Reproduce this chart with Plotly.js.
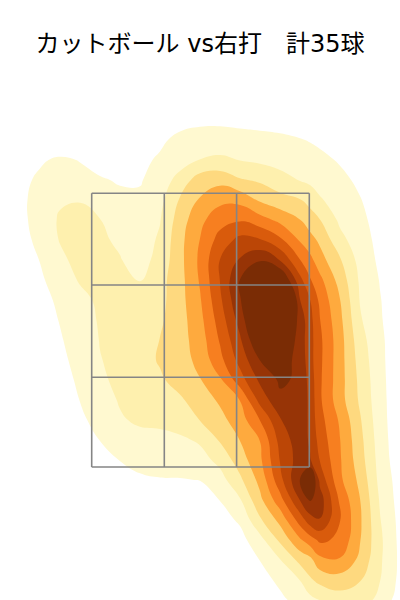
<!DOCTYPE html>
<html>
<head>
<meta charset="utf-8">
<script src="https://cdn.plot.ly/plotly-3.0.1.min.js"></script>
<style>html,body{margin:0;padding:0;background:#fff}#chart{width:400px;height:600px}</style>
</head>
<body>
<div id="chart"></div>
<script>
const chartTitle = 'カットボール vs右打\u3000計35球';
const locX = [0,20,40,60,80,100,120,140,160,180,200,220,240,260,280,300,310,320,340,360,380,400,420];
const locY = [100,120,140,160,180,200,220,240,260,280,300,320,340,360,380,400,420,440,460,480,500,520,540,560,580,600,620];
const density = [
[0,0,0,0,0,0,0,0,.05,.15,.2,.2,.2,.15,.15,.1,.05,0,0,0,0,0,0],
[0,0,0,0,0,0,0,0,.3,.6,.75,.75,.7,.65,.6,.5,.35,.2,0,0,0,0,0],
[0,0,0,0,0,0,0,.4,.8,1.3,1.5,1.55,1.4,1.3,1.2,1.05,.95,.8,.3,0,0,0,0],
[0,.2,.85,1.2,.95,.6,.4,.75,1.15,1.5,2.02,2.15,1.98,1.8,1.6,1.45,1.35,1.25,.9,.3,0,0,0],
[0,.7,1.2,1.5,1.35,1.1,.9,.93,1.4,2.4,3.5,3.7,3.1,2.85,2.4,1.95,1.78,1.6,1.25,.8,.2,0,0],
[0,.7,1.5,1.92,1.96,1.7,1.25,1.15,1.7,3.1,4.1,4.75,4.7,3.85,3.35,3.05,2.65,2.1,1.55,1.05,.5,0,0],
[0,.6,1.6,2.08,2.25,2.02,1.6,1.35,1.95,3.5,4.75,5.6,5.9,5.4,4.75,4.02,3.5,3.02,1.8,1.25,.6,0,0],
[0,.5,1.35,2.05,2.35,2.15,1.85,1.5,2.15,3.7,5.02,6.4,7.3,7.1,6.2,4.9,4.35,3.8,2.3,1.45,.7,.1,0],
[0,.35,1.03,1.8,2.3,2.35,2.05,1.6,2.35,3.7,5.2,7.02,8.1,8.9,7.95,6.02,5.3,4.4,3.1,1.65,.8,.15,0],
[0,.15,.85,1.45,2.1,2.35,2.35,1.98,2.65,3.65,5.1,7.02,9.02,10.5,10.4,7.3,6.1,5.25,3.6,1.85,.95,.3,0],
[0,0,.65,1.2,1.7,2.2,2.35,2.3,2.7,3.65,4.9,6.8,8.9,11,14,8.02,7.02,5.75,4.02,1.95,1.05,.3,0],
[0,0,.5,1.05,1.55,2.1,2.3,2.45,2.85,3.6,4.7,6.45,8.4,11,11.3,8.6,7.35,6.02,4.25,2.12,1.1,.35,0],
[0,0,.35,.9,1.5,2.03,2.25,2.55,3.02,3.6,4.5,6.1,7.85,10.15,10.35,8.55,7.4,6.2,4.4,2.4,1.2,.35,0],
[0,0,.25,.75,1.35,1.97,2.2,2.6,3.1,3.55,4.3,5.7,7.35,9.02,9.45,8.7,7.4,6.2,4.4,2.6,1.25,.3,0],
[0,0,.1,.55,1.2,1.85,2.2,2.45,2.85,3.4,3.95,4.85,6.55,8.2,9.15,8.85,7.6,6.15,4.4,2.75,1.3,.3,0],
[0,0,0,.4,1.02,1.6,2.08,2.25,2.5,2.85,3.5,4.15,5.02,7.35,8.8,8.9,7.7,6.15,4.4,2.85,1.35,.3,0],
[0,0,0,.2,.8,1.35,1.9,2.15,2.2,2.55,3.02,3.7,4.5,6.02,7.9,8.92,7.7,6.35,4.85,3.1,1.4,.3,0],
[0,0,0,0,.5,1.02,1.35,1.7,1.75,1.8,2.15,3.1,4.02,5.02,7.35,8.6,7.85,6.6,5.02,3.3,1.5,.3,0],
[0,0,0,0,.1,.6,1.02,1.2,1.35,1.45,1.6,2.3,3.5,4.8,7.05,8.5,8.1,6.95,5.1,3.45,1.6,.35,0],
[0,0,0,0,0,.1,.7,.9,.95,.95,1.02,1.6,2.8,4.3,6.65,9.02,10.5,7.7,5.2,3.75,1.7,.55,0],
[0,0,0,0,0,0,.1,.1,.1,.2,.55,1.02,1.9,3.75,5.6,8.02,9.1,8.5,5.8,4.02,1.9,.6,0],
[0,0,0,0,0,0,0,0,0,0,.1,.6,1.15,2.85,4.3,6.45,7.55,7.95,6.05,4.15,2.05,.7,0],
[0,0,0,0,0,0,0,0,0,0,0,.15,.65,1.65,3.2,4.85,5.55,6.2,5.8,4.05,2.2,.75,0],
[0,0,0,0,0,0,0,0,0,0,0,0,.35,1.02,1.95,3.3,3.7,4.7,4.9,3.75,2.15,.8,0],
[0,0,0,0,0,0,0,0,0,0,0,0,0,.55,1.25,2.02,2.85,3.3,3.55,3.05,2.02,.75,0],
[0,0,0,0,0,0,0,0,0,0,0,0,0,.2,.75,1.4,1.7,2.02,2.5,2.5,1.7,.5,0],
[0,0,0,0,0,0,0,0,0,0,0,0,0,0,.1,.5,.8,1.02,1.3,1.2,.7,0,0]
];
const bandColors = ['#ffffff','#fff9d0','#fef0ae','#fed97f','#feaa3e','#f77f20','#d95b0c','#bb4606','#973406','#7a2c05'];
const zoneX = [91.7,164.3,236.6,309.3];
const zoneY = [193.3,285,377.3,467];

const colorscale = bandColors.map((c,i)=>[i/(bandColors.length-1),c]);
const contour = {
  type:'contour', x:locX, y:locY, z:density,
  autocontour:false,
  contours:{start:1,end:9,size:1,coloring:'fill',showlines:false},
  line:{width:0,smoothing:1.3},
  colorscale, showscale:false, hoverinfo:'skip'
};
const zoneTraces = [];
zoneX.forEach(x=>zoneTraces.push({type:'scatter',mode:'lines',x:[x,x],y:[zoneY[0],zoneY[3]],line:{color:'#858585',width:1.6},hoverinfo:'skip',showlegend:false}));
zoneY.forEach(y=>zoneTraces.push({type:'scatter',mode:'lines',x:[zoneX[0],zoneX[3]],y:[y,y],line:{color:'#858585',width:1.6},hoverinfo:'skip',showlegend:false}));

Plotly.newPlot('chart',[contour,...zoneTraces],{
  width:400,height:600,
  margin:{l:0,r:0,t:0,b:0},
  paper_bgcolor:'#fff',plot_bgcolor:'#fff',
  showlegend:false,
  title:{text:chartTitle,x:0.5,xanchor:'center',y:0.928,yanchor:'middle',font:{family:'"DejaVu Sans","Noto Sans CJK JP"',size:24,color:'#000'}},
  xaxis:{range:[0,400],visible:false,fixedrange:true},
  yaxis:{range:[600,0],visible:false,fixedrange:true}
},{displayModeBar:false,staticPlot:true});
</script>
</body>
</html>
